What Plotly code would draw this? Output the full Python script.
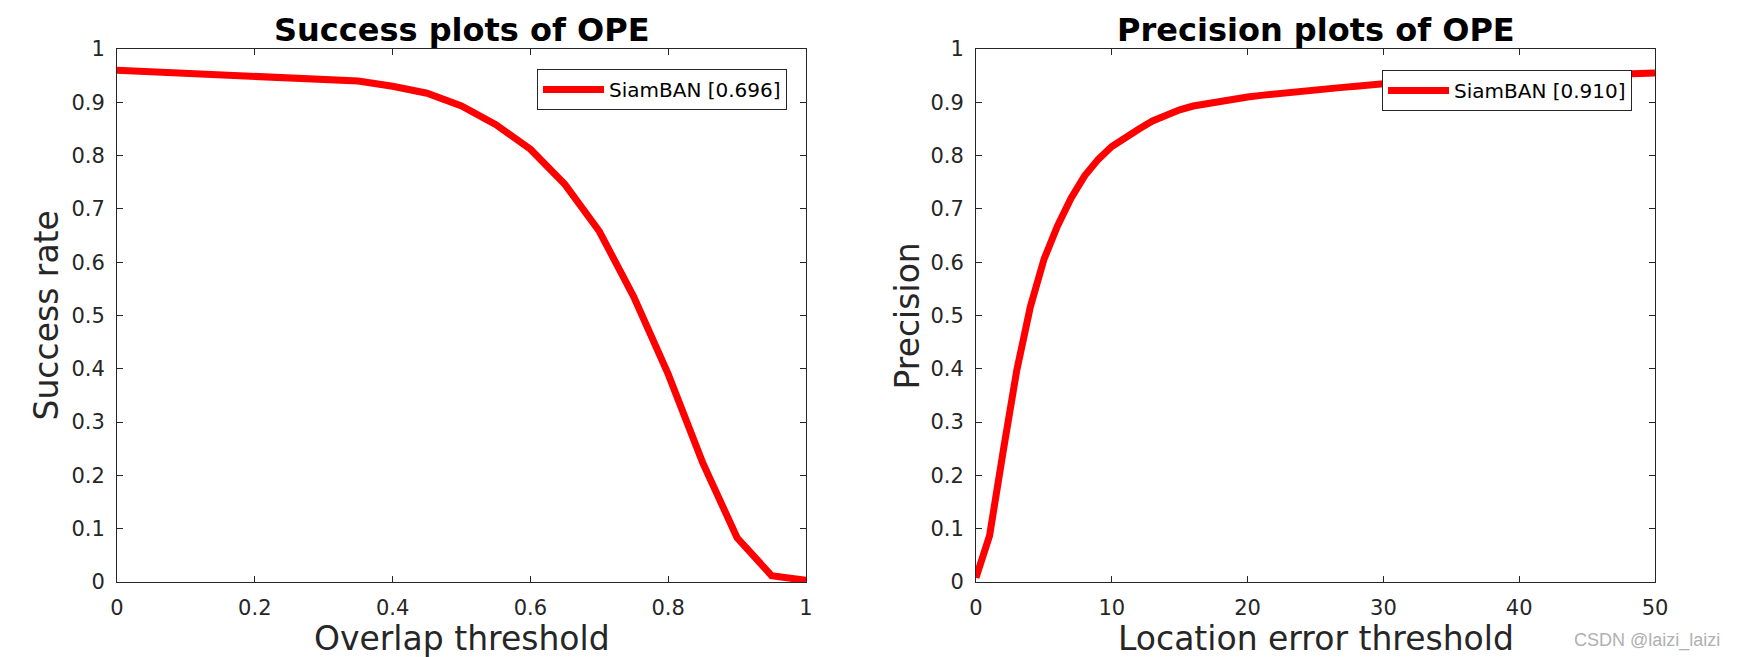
import plotly.graph_objects as go

# ---------------- data ----------------
success_thresholds = [0, 0.05, 0.1, 0.15, 0.2, 0.25, 0.3, 0.35, 0.4, 0.45, 0.5,
                      0.55, 0.6, 0.65, 0.7, 0.75, 0.8, 0.85, 0.9, 0.95, 1.0]
success_rate = [0.960, 0.957, 0.955, 0.952, 0.950, 0.947, 0.944, 0.940, 0.930, 0.917, 0.893,
                0.858, 0.812, 0.746, 0.658, 0.535, 0.390, 0.224, 0.083, 0.012, 0.003]

precision_thresholds = [0, 1, 2, 3, 4, 5, 6, 7, 8, 9, 10, 11, 12, 13, 14, 15, 16, 17, 18, 19, 20,
                        21, 22, 23, 24, 25, 26, 27, 28, 29, 30, 31, 32, 33, 34, 35, 36, 37, 38, 39, 40,
                        41, 42, 43, 44, 45, 46, 47, 48, 49, 50]
precision = [0.008, 0.087, 0.245, 0.397, 0.516, 0.605, 0.668, 0.720, 0.762, 0.793, 0.817,
             0.835, 0.850, 0.865, 0.877, 0.886, 0.893, 0.898, 0.903, 0.907, 0.910,
             0.913, 0.916, 0.919, 0.922, 0.924, 0.926, 0.928, 0.930, 0.933, 0.935,
             0.937, 0.938, 0.940, 0.941, 0.942, 0.943, 0.944, 0.945, 0.946, 0.947,
             0.948, 0.948, 0.949, 0.950, 0.950, 0.951, 0.952, 0.953, 0.954, 0.955]

tracker_name = "SiamBAN"
success_auc = "0.696"
precision_at20 = "0.910"

y_tickvals = [0, 0.1, 0.2, 0.3, 0.4, 0.5, 0.6, 0.7, 0.8, 0.9, 1]
y_ticktext = ["0", "0.1", "0.2", "0.3", "0.4", "0.5", "0.6", "0.7", "0.8", "0.9", "1"]
x1_tickvals = [0, 0.2, 0.4, 0.6, 0.8, 1]
x1_ticktext = ["0", "0.2", "0.4", "0.6", "0.8", "1"]
x2_tickvals = [0, 10, 20, 30, 40, 50]
x2_ticktext = ["0", "10", "20", "30", "40", "50"]

titles = ["Success plots of OPE", "Precision plots of OPE"]
xlabels = ["Overlap threshold", "Location error threshold"]
ylabels = ["Success rate", "Precision"]
watermark = "CSDN @laizi_laizi"

# ---------------- figure ----------------
# the page body has an 8px margin, so the figure is drawn 8px in from the window corner
OFF = 8
W, H = 1737 - OFF, 657 - OFF
AX = "#262626"
FONT = "DejaVu Sans"

def px(x):   # window pixel x -> paper fraction
    return (x - OFF) / W

def py(y):   # window pixel y (from top) -> paper fraction
    return 1 - (y - OFF) / H

fig = go.Figure()
fig.add_trace(go.Scatter(x=success_thresholds, y=success_rate, mode="lines",
                         line=dict(color="#ff0000", width=7),
                         name=f"{tracker_name} [{success_auc}]",
                         xaxis="x", yaxis="y", legend="legend"))
fig.add_trace(go.Scatter(x=precision_thresholds, y=precision, mode="lines",
                         line=dict(color="#ff0000", width=7),
                         name=f"{tracker_name} [{precision_at20}]",
                         xaxis="x2", yaxis="y2", legend="legend2"))

ydom = [py(582), py(49)]
dom1 = [px(117), px(806)]
dom2 = [px(976), px(1655)]

def axis(domain, rng, tv, tt, anchor):
    return dict(domain=domain, range=rng, tickvals=tv, ticktext=tt, anchor=anchor,
                showline=True, linecolor=AX, linewidth=1, mirror="ticks",
                ticks="inside", ticklen=6, tickcolor=AX, tickwidth=1,
                showgrid=False, zeroline=False, fixedrange=True, automargin=False,
                tickfont=dict(family=FONT, size=21, color=AX),
                ticklabelstandoff=7)

legend_common = dict(bgcolor="white", bordercolor=AX, borderwidth=1,
                     font=dict(family=FONT, size=20, color="black"),
                     xanchor="right", yanchor="top", itemwidth=61,
                     tracegroupgap=0)

fig.update_layout(
    width=W, height=H,
    autosize=False,
    margin=dict(l=0, r=0, t=0, b=0, pad=0, autoexpand=False),
    paper_bgcolor="white", plot_bgcolor="white",
    xaxis=axis(dom1, [0, 1], x1_tickvals, x1_ticktext, "y"),
    yaxis=axis(ydom, [0, 1], y_tickvals, y_ticktext, "x"),
    xaxis2=axis(dom2, [0, 50], x2_tickvals, x2_ticktext, "y2"),
    yaxis2=axis(ydom, [0, 1], y_tickvals, y_ticktext, "x2"),
    legend=dict(x=px(787), y=py(69), **legend_common),
    legend2=dict(x=px(1632), y=py(70), **legend_common),
    showlegend=True,
)

centers = [(dom1[0] + dom1[1]) / 2, (dom2[0] + dom2[1]) / 2]
ylab_x = [px(46), px(907)]
annots = []
for i in range(2):
    annots.append(dict(text=f"<b>{titles[i]}</b>", x=centers[i], y=py(9),
                       xref="paper", yref="paper", xanchor="center", yanchor="top",
                       showarrow=False, font=dict(family=FONT, size=32, color="black")))
    annots.append(dict(text=xlabels[i], x=centers[i], y=py(638),
                       xref="paper", yref="paper", xanchor="center", yanchor="middle",
                       showarrow=False, font=dict(family=FONT, size=33, color=AX)))
    annots.append(dict(text=ylabels[i], x=ylab_x[i], y=(ydom[0] + ydom[1]) / 2,
                       xref="paper", yref="paper", xanchor="center", yanchor="middle",
                       textangle=-90, showarrow=False,
                       font=dict(family=FONT, size=33, color=AX)))
annots.append(dict(text=watermark, x=px(1722), y=py(640), xref="paper", yref="paper",
                   xanchor="right", yanchor="middle", showarrow=False,
                   font=dict(family="Liberation Sans", size=18, color="#b0b0b0")))
fig.update_layout(annotations=annots)

fig.write_html("out.html", config={"displayModeBar": False})
